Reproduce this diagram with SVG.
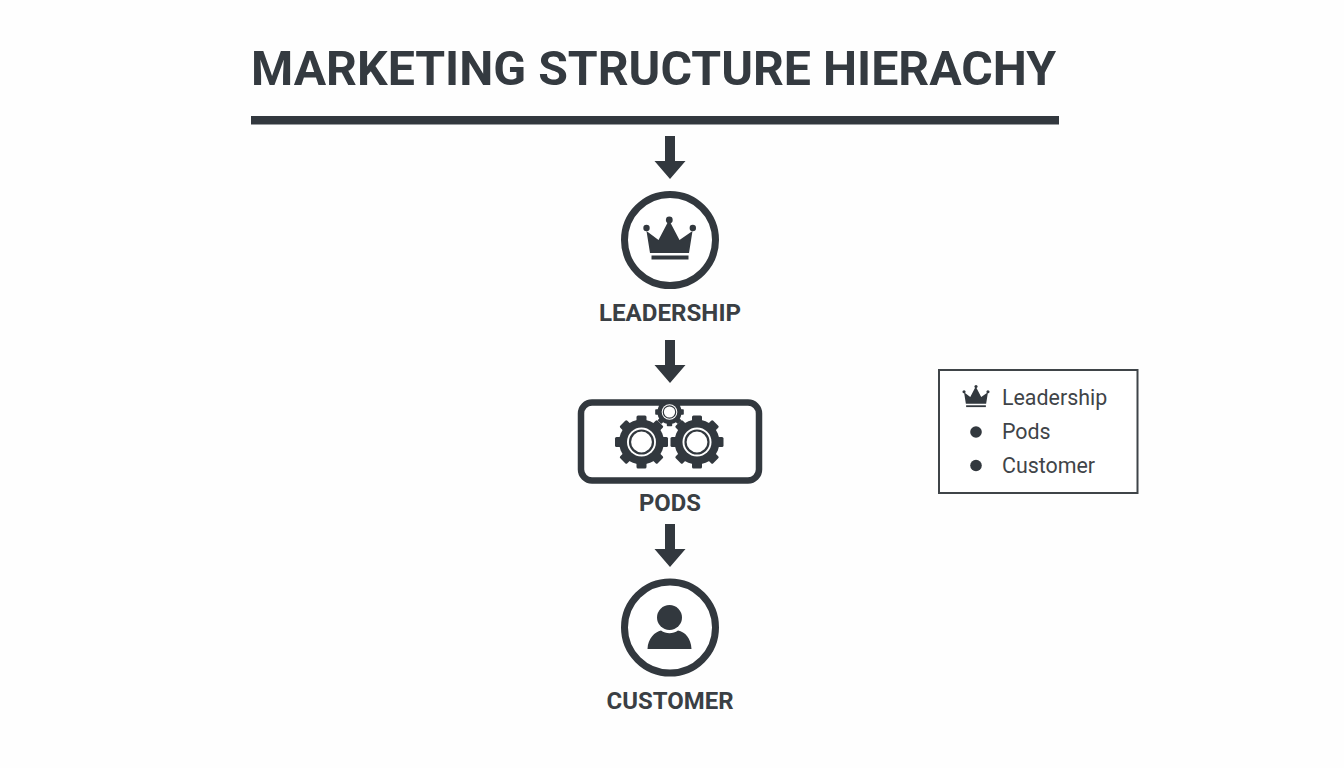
<svg xmlns="http://www.w3.org/2000/svg" width="1344" height="768" viewBox="0 0 1344 768">
<style>
.d{fill:#32383e}
.ring{fill:#fff;stroke:#32383e;stroke-width:7}
.lab{font-family:Roboto,"Liberation Sans",sans-serif;font-weight:700;font-size:23px;fill:#3a3f44;text-anchor:middle}
.leg{font-family:Roboto,"Liberation Sans",sans-serif;font-size:21.400px;fill:#3f4448}
</style>
<defs>
<g id="gear">
<circle r="22.500" class="d"/>
<g class="d">
<rect x="-5" y="-26.500" width="10" height="53" rx="1.500"/>
<rect x="-5" y="-26.500" width="10" height="53" rx="1.500" transform="rotate(45)"/>
<rect x="-5" y="-26.500" width="10" height="53" rx="1.500" transform="rotate(90)"/>
<rect x="-5" y="-26.500" width="10" height="53" rx="1.500" transform="rotate(135)"/>
</g>
<circle r="14.500" fill="#fff"/><circle r="11.500" fill="#fff" stroke="#32383e" stroke-width="2.200"/>
</g>
<clipPath id="podTop"><rect x="640" y="400" width="60" height="40"/></clipPath>
<path id="arrow" class="d" d="M-5-22H5V3H15.500L0 21-15.500 3H-5Z"/>
<path id="crown" d="M-23-9-11 0-0.500-20 10 0 23-9 19.500 13H-19.500Z"/>
</defs>
<rect width="1344" height="768" fill="#fefefe"/>
<g id="title">
<text x="251" y="85" font-family="Roboto,'Liberation Sans',sans-serif" font-weight="700" font-size="49" fill="#343a40" textLength="805" lengthAdjust="spacingAndGlyphs">MARKETING STRUCTURE HIERACHY</text>
<rect x="251" y="116" width="808" height="8.500" class="d"/>
</g>
<g id="connectors">
<use href="#arrow" x="670" y="158"/>
<use href="#arrow" x="670" y="362"/>
<use href="#arrow" x="670" y="546"/>
</g>
<g id="leadership">
<circle cx="670" cy="240" r="45.500" class="ring"/>
<use href="#crown" x="669.500" y="240" class="d"/>
<circle cx="646.500" cy="228" r="3.200" class="d"/><circle cx="669.300" cy="220" r="3.400" class="d"/><circle cx="692.800" cy="228" r="3.200" class="d"/>
<rect x="651.500" y="255.500" width="37" height="4" class="d"/>
<text x="670" y="321" class="lab" textLength="142" lengthAdjust="spacingAndGlyphs">LEADERSHIP</text>
</g>
<g id="pods">
<rect x="581" y="402.500" width="178" height="78" rx="11" fill="#fff" stroke="#32383e" stroke-width="6.500"/>
<use href="#gear" x="641.500" y="442"/>
<use href="#gear" x="697" y="442"/>
<g clip-path="url(#podTop)"><g transform="translate(669.500 412) scale(.54)"><use href="#gear"/></g></g>
<text x="670" y="511" class="lab" textLength="62" lengthAdjust="spacingAndGlyphs">PODS</text>
</g>
<g id="customer">
<circle cx="670" cy="627.500" r="45.500" class="ring"/>
<circle cx="669.500" cy="617.500" r="12.500" class="d"/>
<path class="d" d="M647.500 649C648 638 655 632 661 630.500C666 634 673 634 678 630.500C685 632 691 638 691.500 649Z"/>
<text x="670" y="708.500" class="lab" textLength="127" lengthAdjust="spacingAndGlyphs">CUSTOMER</text>
</g>
<g id="legend">
<rect x="939" y="370" width="198.500" height="123" fill="#fff" stroke="#3f4448" stroke-width="2"/>
<g transform="translate(976 398) scale(.52)"><use href="#crown" class="d" y="-2"/><circle cx="-23" cy="-12" r="3" class="d"/><circle cx="0" cy="-22" r="3" class="d"/><circle cx="23" cy="-12" r="3" class="d"/><rect x="-19" y="14" width="38" height="3.500" class="d"/></g>
<circle cx="976" cy="432" r="5.800" class="d"/>
<circle cx="976" cy="465.500" r="5.800" class="d"/>
<text x="1002" y="405" class="leg">Leadership</text>
<text x="1002" y="439" class="leg">Pods</text>
<text x="1002" y="473" class="leg">Customer</text>
</g>
</svg>
